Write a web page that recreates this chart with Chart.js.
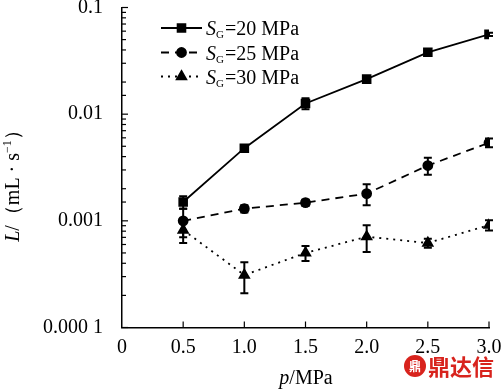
<!DOCTYPE html>
<html>
<head>
<meta charset="utf-8">
<script src="https://cdn.jsdelivr.net/npm/chart.js@4.4.0/dist/chart.umd.min.js"></script>
<style>
  html, body { margin: 0; padding: 0; background: #fff; }
  #wrap { width: 503px; height: 389px; }
</style>
</head>
<body>
<div id="wrap"><canvas id="myChart" width="503" height="389"></canvas></div>
<script>
const pressures = [0.5, 1.0, 1.5, 2.0, 2.5, 3.0]
const seriesNames = ['20 MPa', '25 MPa', '30 MPa']
const flow20 = [0.0015, 0.0048, 0.0126, 0.0213, 0.038, 0.056]
const err20 = [0.0002, 0.0003, 0.0015, 0.0015, 0.0015, 0.002]
const flow25 = [0.001, 0.0013, 0.00148, 0.0018, 0.0033, 0.0054]
const err25 = [0.0003, 0.0001, 0.0001, 0.0004, 0.0006, 0.0005]
const flow30 = [0.00082, 0.00031, 0.0005, 0.00071, 0.00062, 0.00091]
const err30 = [0.0002, 0.0001, 0.00008, 0.0002, 0.00006, 0.0001]
const yTicks = [0.0001, 0.001, 0.01, 0.1]
const yTickText = ['0.000 1', '0.001', '0.01', '0.1']

const serif = 'Liberation Serif'

function pts(vals) {
  return pressures.map((p, i) => ({ x: p, y: vals[i] }))
}

function noPad(s) {
  s.paddingTop = 0; s.paddingBottom = 0; s.paddingLeft = 0; s.paddingRight = 0
}

// error bars, inner ticks, axis titles, legend
const extras = {
  id: 'extras',
  afterDatasetsDraw(chart) {
    const ctx = chart.ctx
    const xs = chart.scales.x, ys = chart.scales.y
    const errs = [err20, err25, err30]
    ctx.save()
    ctx.strokeStyle = '#000'
    ctx.lineWidth = 2
    ctx.setLineDash([])
    chart.data.datasets.forEach((ds, i) => {
      ds.data.forEach((d, j) => {
        const x = xs.getPixelForValue(d.x)
        const y1 = ys.getPixelForValue(d.y + errs[i][j])
        const y2 = ys.getPixelForValue(d.y - errs[i][j])
        ctx.beginPath()
        ctx.moveTo(x, y1); ctx.lineTo(x, y2)
        ctx.moveTo(x - 4, y1); ctx.lineTo(x + 4, y1)
        ctx.moveTo(x - 4, y2); ctx.lineTo(x + 4, y2)
        ctx.stroke()
      })
    })
    ctx.restore()
  },
  afterDraw(chart) {
    const ctx = chart.ctx
    const xs = chart.scales.x, ys = chart.scales.y
    const a = chart.chartArea
    ctx.save()
    ctx.strokeStyle = '#000'
    ctx.lineWidth = 1.2
    // y ticks inside
    ys.ticks.forEach(t => {
      const y = ys.getPixelForValue(t.value)
      const major = yTicks.some(v => Math.abs(v - t.value) / v < 1e-6)
      ctx.beginPath()
      ctx.moveTo(a.left, y); ctx.lineTo(a.left + (major ? 6 : 4), y)
      ctx.stroke()
    })
    // x ticks inside
    xs.ticks.forEach(t => {
      if (t.value === 0) return
      const x = xs.getPixelForValue(t.value)
      ctx.beginPath()
      ctx.moveTo(x, a.bottom); ctx.lineTo(x, a.bottom - 6)
      ctx.stroke()
    })

    ctx.fillStyle = '#000'
    ctx.textBaseline = 'alphabetic'
    // x title
    const xParts = [['p', 'italic '], ['/MPa', '']]
    drawParts(ctx, xParts, 306, 384, 20)

    // y title
    ctx.save()
    ctx.translate(19, 181)
    ctx.rotate(-Math.PI / 2)
    const yParts = [['L', 'italic '], ['/\uFF08mL \u00B7 s', ''], ['\u22121', '', 12, -8], ['\uFF09', '']]
    drawParts(ctx, yParts, 0, 0, 20)
    ctx.restore()

    // legend
    const rows = [28, 52.5, 76.5]
    chart.data.datasets.forEach((ds, i) => {
      const y = rows[i]
      ctx.save()
      ctx.strokeStyle = '#000'
      ctx.lineWidth = ds.borderWidth
      ctx.setLineDash(ds.borderDash || [])
      ctx.beginPath()
      ctx.moveTo(161, y); ctx.lineTo(202, y)
      ctx.stroke()
      ctx.setLineDash([])
      Chart.helpers.drawPoint(ctx, { pointStyle: ds.pointStyle, radius: ds.pointRadius, borderWidth: 1 }, 181.5, y)
      ctx.fill()
      ctx.restore()
      ctx.textAlign = 'left'
      let x = 206
      ctx.font = 'italic 20px ' + serif
      ctx.fillText('S', x, y + 7)
      x += ctx.measureText('S').width
      ctx.font = '11px ' + serif
      ctx.fillText('G', x, y + 10)
      x += ctx.measureText('G').width + 1
      ctx.font = '20px ' + serif
      ctx.fillText('=' + seriesNames[i], x, y + 7)
    })

    // watermark
    ctx.fillStyle = '#d8231d'
    ctx.beginPath()
    ctx.arc(415, 366, 11, 0, Math.PI * 2)
    ctx.fill()
    ctx.fillStyle = '#fff'
    ctx.font = 'bold 12px "Noto Sans CJK SC"'
    ctx.textAlign = 'center'
    ctx.fillText('\u9F0E', 415, 371)
    ctx.fillStyle = '#d8231d'
    ctx.font = 'bold 22px "Noto Sans CJK SC"'
    ctx.textAlign = 'left'
    ctx.fillText('\u9F0E\u8FBE\u4FE1', 428, 375)
    ctx.restore()
  }
}

function drawParts(ctx, parts, cx, y, size) {
  let total = 0
  parts.forEach(p => {
    ctx.font = p[1] + (p[2] || size) + 'px ' + serif
    total += ctx.measureText(p[0]).width
  })
  let x = cx - total / 2
  ctx.textAlign = 'left'
  parts.forEach(p => {
    ctx.font = p[1] + (p[2] || size) + 'px ' + serif
    ctx.fillText(p[0], x, y + (p[3] || 0))
    x += ctx.measureText(p[0]).width
  })
}

const ctx = document.getElementById('myChart')

new Chart(ctx, {
  type: 'line',
  data: {
    datasets: [
      {
        label: seriesNames[0],
        data: pts(flow20),
        borderColor: '#000', backgroundColor: '#000',
        borderWidth: 1.8, pointStyle: 'rect', pointRadius: 5.5
      },
      {
        label: seriesNames[1],
        data: pts(flow25),
        borderColor: '#000', backgroundColor: '#000',
        borderWidth: 1.8, borderDash: [8, 6], pointStyle: 'circle', pointRadius: 4.5
      },
      {
        label: seriesNames[2],
        data: pts(flow30),
        borderColor: '#000', backgroundColor: '#000',
        borderWidth: 1.8, borderDash: [2, 5], pointStyle: 'triangle', pointRadius: 5.5
      }
    ]
  },
  options: {
    responsive: false,
    animation: false,
    layout: { padding: { left: 0, top: 7.5, right: 14, bottom: 0 } },
    plugins: { legend: { display: false }, tooltip: { enabled: false } },
    elements: { line: { tension: 0 } },
    scales: {
      x: {
        type: 'linear', min: 0, max: 3,
        ticks: {
          stepSize: 0.5, color: '#000', padding: 8,
          font: { family: serif, size: 20 },
          callback: v => v === 0 ? '0' : v.toFixed(1)
        },
        grid: { display: false, drawTicks: false },
        border: { color: '#000', width: 1.5 },
        afterFit: s => { s.height = 61.5; noPad(s) }
      },
      y: {
        type: 'logarithmic', min: 0.0001, max: 0.1,
        ticks: {
          color: '#000', padding: 19, autoSkip: false,
          font: { family: serif, size: 20 },
          callback: v => {
            const k = yTicks.findIndex(t => Math.abs(t - v) / t < 1e-6)
            return k >= 0 ? yTickText[k] : ''
          }
        },
        grid: { display: false, drawTicks: false },
        border: { color: '#000', width: 1.5 },
        afterFit: s => { s.width = 122; noPad(s) }
      }
    }
  },
  plugins: [extras]
})
</script>
</body>
</html>
